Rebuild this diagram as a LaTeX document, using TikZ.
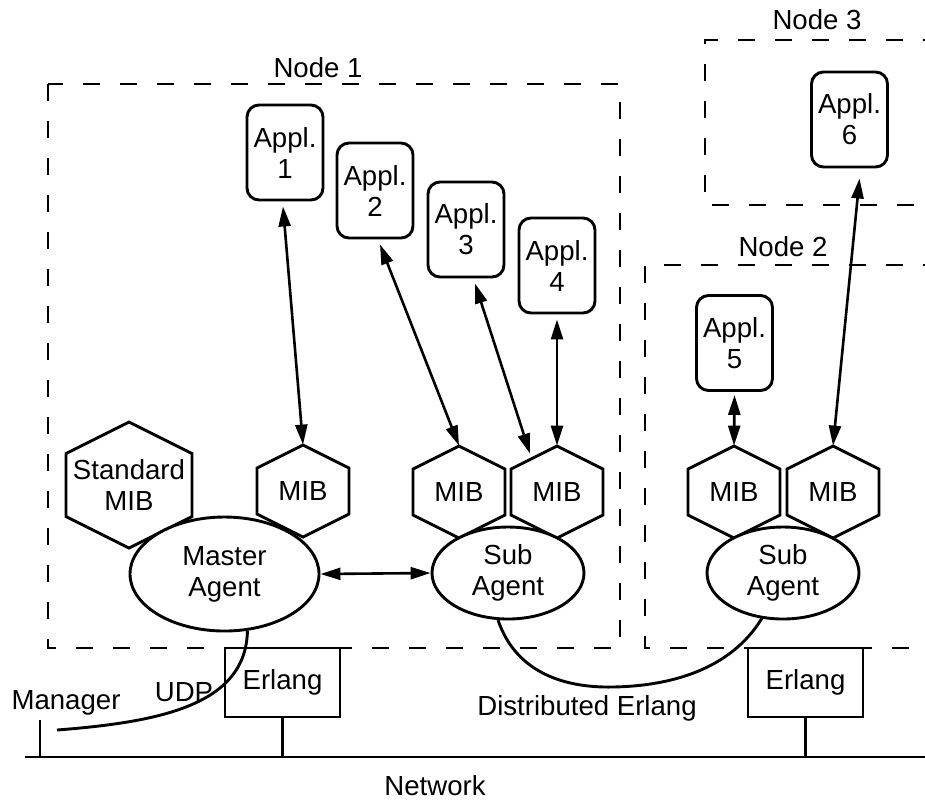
\documentclass[tikz,border=0pt]{standalone}
\usepackage{fontspec}
\setmainfont{Liberation Sans}
\usetikzlibrary{arrows.meta,shapes.geometric,calc}
\newcommand\hexdraw[2]{\draw[ln] ($(#1.center)+(0,-#2)$) -- ++(#2,#2/2) -- ++(0,#2) -- ++(-#2,#2/2) -- ++(-#2,-#2/2) -- ++(0,-#2) -- cycle;}
\begin{document}
\begin{tikzpicture}[x=0.5pt,y=-0.5pt,
  every node/.style={font=\fontsize{13.8}{15.5}\selectfont, align=center},
  ln/.style={line width=1.45pt},
  dsh/.style={line width=1.45pt, dash pattern=on 8.5pt off 10pt},
  appl/.style={draw, line width=1.45pt, rounded corners=6pt, minimum width=38pt, minimum height=47.5pt, inner sep=0pt},
  hexn/.style={inner sep=0pt, minimum width=46pt, minimum height=46pt},
  hexbig/.style={inner sep=0pt, minimum width=63pt, minimum height=63pt},
  master/.style={draw, ellipse, fill=white, line width=1.45pt, inner sep=0pt, minimum width=94.5pt, minimum height=57pt},
  sub/.style={draw, ellipse, fill=white, line width=1.45pt, inner sep=0pt, minimum width=76pt, minimum height=46pt},
  erl/.style={draw, rectangle, line width=1.45pt, inner sep=0pt, minimum width=57.5pt, minimum height=34.5pt},
  bi/.style={line width=1.3pt, {Triangle[length=10pt,width=6pt]}-{Triangle[length=10pt,width=6pt]}}
]
\useasboundingbox (0,0) rectangle (925,800);
\clip (0,0) rectangle (925,800);

% dashed node boxes
\draw[dsh] (48,84) rectangle (620,648);
\draw[dsh] (940,265) -| (645,648) -- (940,648);
\draw[dsh] (940,40) -| (705,205) -- (940,205);
\node (n1) at (318,68) {Node 1};
\node (n2) at (783,247) {Node 2};
\node (n3) at (817,20) {Node 3};

% applications
\node[appl] (a1) at (285,152.5) {Appl.\\1};
\node[appl] (a2) at (375,190.5) {Appl.\\2};
\node[appl] (a3) at (466,229.5) {Appl.\\3};
\node[appl] (a4) at (557,265.5) {Appl.\\4};
\node[appl] (a5) at (734.5,343) {Appl.\\5};
\node[appl] (a6) at (849.5,119.5) {Appl.\\6};

% MIB hexagons
\node[hexbig] (m0) at (129,485) {Standard\\MIB};
\node[hexn] (m1) at (303,491) {MIB};
\node[hexn] (m2) at (459,492) {MIB};
\node[hexn] (m3) at (557,492) {MIB};
\node[hexn] (m4) at (734,492) {MIB};
\node[hexn] (m5) at (833,492) {MIB};
\hexdraw{m0}{63}
\hexdraw{m1}{46}
\hexdraw{m2}{46}
\hexdraw{m3}{46}
\hexdraw{m4}{46}
\hexdraw{m5}{46}

% agents
\node[master] (ma) at (224.5,574) {Master\\Agent};
\node[sub] (sa1) at (508,573) {Sub\\Agent};
\node[sub] (sa2) at (783,573) {Sub\\Agent};

% erlang boxes and network
\node[erl] (e1) at (282.5,682.5) {Erlang};
\node[erl] (e2) at (805.5,682.5) {Erlang};
\coordinate (nl) at (25,757);
\coordinate (nr) at (925,757);
\coordinate (mg) at (40,720);
\coordinate (udpend) at (57,730);
\draw[ln] (nl) -- (nr);
\draw[ln] (mg) -- (mg |- nl);
\draw[ln] (e1.south) -- (e1.south |- nl);
\draw[ln] (e2.south) -- (e2.south |- nl);

% arrows
\draw[bi] ($(a1.south)+(-2,5)$) -- (m1.north);
\draw[bi] ($(a2.south)+(5,5)$) -- (m2.north);
\draw[bi] ($(a3.south)+(9,5)$) -- ($(m3.north)+(-27,8)$);
\draw[bi] ($(a4.south)+(0,5)$) -- (m3.north);
\draw[bi] ($(a5.south)+(0,3)$) -- (m4.north);
\draw[bi] ($(a6.south)+(10,10)$) -- (m5.north);
\draw[bi] (ma.east) -- (sa1.west);

% UDP and distributed erlang curves
\draw[ln] (ma.-68) .. controls (246,705) and (160,722) .. (udpend);
\draw[ln] (sa1.-102) .. controls (515,670) and (560,688) .. (613,687) .. controls (670,686) and (730,670) .. (sa2.-115);

% labels
\node (mgr) at (66,703) {Manager};
\node (udp) at (184,692) {UDP};
\node (de) at (587,708) {Distributed Erlang};
\node[inner sep=0pt] (net) at (435,786) {Network};
\end{tikzpicture}
\end{document}
